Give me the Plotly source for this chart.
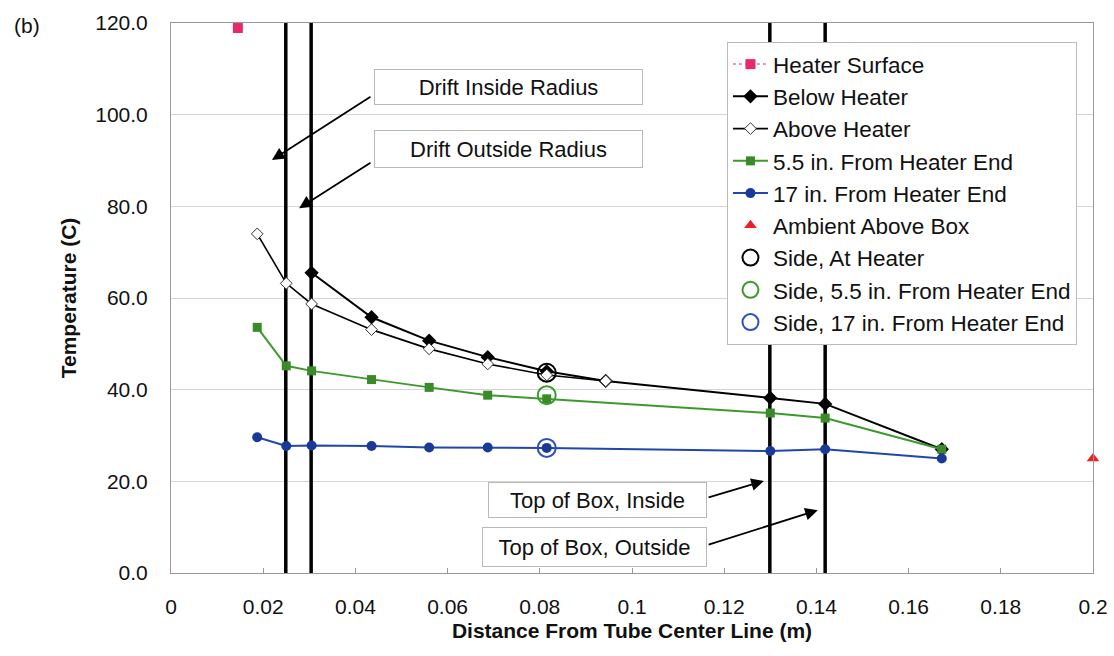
import plotly.graph_objects as go

# ---------------- data ----------------
heater_x = [0.0145]
heater_y = [118.9]

below_x = [0.0305, 0.0435, 0.0560, 0.0687, 0.0815, 0.0943, 0.1300, 0.1419, 0.1672]
below_y = [65.5, 55.8, 50.7, 47.1, 44.0, 41.9, 38.2, 36.9, 27.0]

above_x = [0.0187, 0.0250, 0.0305, 0.0435, 0.0560, 0.0687, 0.0815, 0.0943]
above_y = [74.0, 63.2, 58.7, 53.1, 48.9, 45.6, 43.2, 41.9]

s55_x = [0.0187, 0.0250, 0.0305, 0.0435, 0.0560, 0.0687, 0.0815, 0.1300, 0.1419, 0.1672]
s55_y = [53.6, 45.2, 44.1, 42.2, 40.5, 38.8, 38.0, 34.9, 33.8, 27.0]

s17_x = [0.0187, 0.0250, 0.0305, 0.0435, 0.0560, 0.0687, 0.0815, 0.1300, 0.1419, 0.1672]
s17_y = [29.6, 27.7, 27.8, 27.7, 27.4, 27.4, 27.3, 26.6, 27.0, 25.0]

ambient_x = [0.2]
ambient_y = [25.0]

side_heater_x, side_heater_y = [0.0815], [43.7]
side_55_x, side_55_y = [0.0815], [38.8]
side_17_x, side_17_y = [0.0815], [27.3]

boundary_x = [0.0249, 0.0304, 0.1299, 0.1419]   # drift in/out radius, box inside/outside
y_range = [0, 120]

y_ticks = [0, 20, 40, 60, 80, 100, 120]
x_ticks = [0, 0.02, 0.04, 0.06, 0.08, 0.1, 0.12, 0.14, 0.16, 0.18, 0.2]

GREEN = "#3c9a2c"
BLUE = "#2147a8"
PINK = "#e8286a"
FONT = "Liberation Sans, Arial, sans-serif"

fig = go.Figure()

# boundary vertical lines
for bx in boundary_x:
    fig.add_trace(go.Scatter(x=[bx, bx], y=y_range, mode="lines",
                             line=dict(color="black", width=3.5),
                             showlegend=False, hoverinfo="skip"))

fig.add_trace(go.Scatter(x=heater_x, y=heater_y, name="Heater Surface", mode="lines+markers",
                         line=dict(color="#e878a8", width=1.5, dash="dot"),
                         marker=dict(symbol="square", size=10, color=PINK), legendgroup="a"))
fig.add_trace(go.Scatter(x=below_x, y=below_y, name="Below Heater", mode="lines+markers",
                         line=dict(color="black", width=2),
                         marker=dict(symbol="diamond", size=11, color="black"), legendgroup="b"))
fig.add_trace(go.Scatter(x=above_x, y=above_y, name="Above Heater", mode="lines+markers",
                         line=dict(color="black", width=1.6),
                         marker=dict(symbol="diamond", size=9, color="white",
                                     line=dict(color="#333", width=1)), legendgroup="c"))
fig.add_trace(go.Scatter(x=s55_x, y=s55_y, name="5.5 in. From Heater End", mode="lines+markers",
                         line=dict(color=GREEN, width=2),
                         marker=dict(symbol="square", size=9, color="#3a8a28"), legendgroup="d"))
fig.add_trace(go.Scatter(x=s17_x, y=s17_y, name="17 in. From Heater End", mode="lines+markers",
                         line=dict(color=BLUE, width=2),
                         marker=dict(symbol="circle", size=10, color="#1a3a9a"), legendgroup="e"))
fig.add_trace(go.Scatter(x=ambient_x, y=ambient_y, name="Ambient Above Box", mode="markers",
                         cliponaxis=False,
                         marker=dict(symbol="triangle-up", size=11, color="#ee2020"), legendgroup="f"))
fig.add_trace(go.Scatter(x=side_heater_x, y=side_heater_y, name="Side, At Heater", mode="markers",
                         marker=dict(symbol="circle-open", size=18, color="black", line=dict(width=2)),
                         legendgroup="g"))
fig.add_trace(go.Scatter(x=side_55_x, y=side_55_y, name="Side, 5.5 in. From Heater End", mode="markers",
                         marker=dict(symbol="circle-open", size=18, color=GREEN, line=dict(width=2)),
                         legendgroup="h"))
fig.add_trace(go.Scatter(x=side_17_x, y=side_17_y, name="Side, 17 in. From Heater End", mode="markers",
                         marker=dict(symbol="circle-open", size=18, color="#2a50c0", line=dict(width=2)),
                         legendgroup="i"))

# text boxes
def box(text, x, y, w, h):
    fig.add_annotation(x=x, y=y, xref="x", yref="y", text=text, showarrow=False,
                       font=dict(family=FONT, size=22, color="#111"),
                       bordercolor="#b8b8b8", borderwidth=1, borderpad=4,
                       bgcolor="white", width=w, height=h)

box("Drift Inside Radius", 0.0732, 106.0, 259, 26)
box("Drift Outside Radius", 0.0732, 92.5, 259, 28)
box("Top of Box, Inside", 0.0925, 15.9, 209, 26)
box("Top of Box, Outside", 0.0919, 5.7, 215, 30)

def arrow(hx, hy, tx, ty):
    fig.add_annotation(x=hx, y=hy, ax=tx, ay=ty, xref="x", yref="y", axref="x", ayref="y",
                       text="", showarrow=True, arrowhead=2, arrowsize=1.4, arrowwidth=1.8,
                       arrowcolor="black")

arrow(0.0219, 90.1, 0.0436, 104.1)
arrow(0.0278, 79.6, 0.0436, 89.7)
arrow(0.1286, 20.1, 0.1163, 16.4)
arrow(0.1403, 13.7, 0.1163, 6.1)

fig.add_annotation(x=-0.172, y=0.996, xref="paper", yref="paper", text="(b)", showarrow=False,
                   font=dict(family=FONT, size=21, color="#111"), xanchor="left", yanchor="middle")

fig.update_layout(
    width=1114, height=656,
    margin=dict(l=171, r=21, t=23, b=83),
    paper_bgcolor="white", plot_bgcolor="white",
    font=dict(family=FONT, size=21, color="#111"),
    showlegend=True,
    legend=dict(x=0.603, y=0.9655, xanchor="left", yanchor="top",
                bgcolor="white", bordercolor="#bbbbbb", borderwidth=1,
                font=dict(family=FONT, size=22.5, color="#111"),
                tracegroupgap=0, itemwidth=35),
    xaxis=dict(range=[0, 0.2], tickvals=x_ticks, ticktext=[f"{v:g}" for v in x_ticks],
               showgrid=False, zeroline=False, showline=True, linecolor="#999", linewidth=1,
               mirror=True, ticks="inside", ticklen=5, tickcolor="#999", automargin=False,
               ticklabelstandoff=15, ticklabeloverflow="allow", tickfont=dict(size=21),
               title=dict(text="<b>Distance From Tube Center Line (m)</b>",
                          font=dict(family=FONT, size=21), standoff=6)),
    yaxis=dict(range=y_range, tickvals=y_ticks, tickformat=".1f", automargin=False,
               showgrid=True, gridcolor="#d4d4d4", gridwidth=1, zeroline=False,
               showline=True, linecolor="#999", linewidth=1, mirror=True,
               ticks="", ticklabelstandoff=18, tickfont=dict(size=21),
               title=dict(text="<b>Temperature (C)</b>",
                          font=dict(family=FONT, size=21), standoff=12)),
)

fig.write_html("out.html", config={"displayModeBar": False},
               post_script="document.body.style.margin='0px';")
